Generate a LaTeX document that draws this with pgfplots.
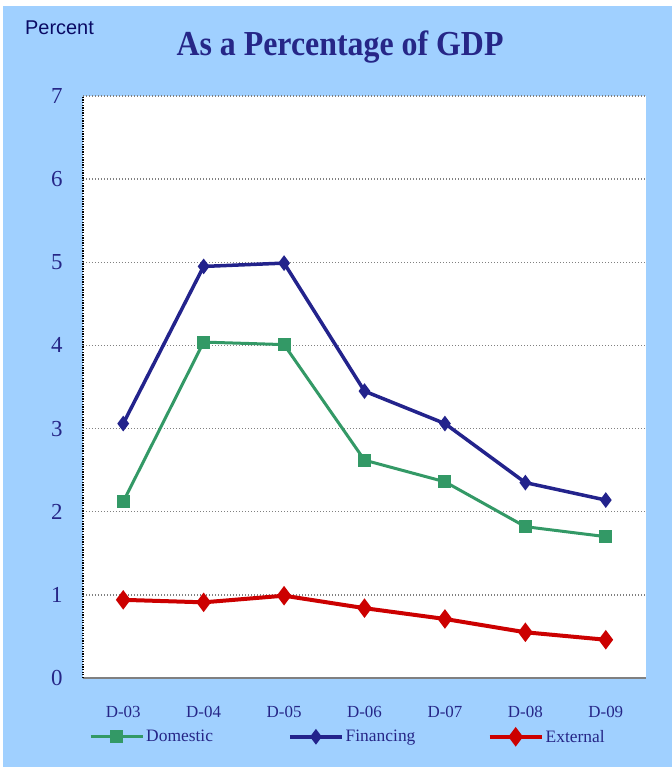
\documentclass[border=0pt]{standalone}
\usepackage{fontspec}
\setmainfont{Liberation Serif}
\newfontfamily\arialf{Liberation Sans}
\usepackage{graphicx}
\usepackage{pgfplots}
\pgfplotsset{compat=1.18}
\definecolor{bgblue}{RGB}{160,208,255}
\definecolor{navy}{RGB}{35,35,140}
\definecolor{txt}{RGB}{38,38,135}
\definecolor{pct}{RGB}{10,10,100}
\definecolor{dgreen}{RGB}{51,153,102}
\definecolor{dred}{RGB}{204,0,0}
\begin{document}
\begin{tikzpicture}[x=1bp,y=1bp]
\fill[white] (-83,-89) rectangle (589,678);
\fill[bgblue] (-80,-89) rectangle (589,672);
\begin{axis}[
  at={(0,0)}, anchor=south west,
  scale only axis, width=563bp, height=582bp,
  xmin=-0.5, xmax=6.5, ymin=0, ymax=7,
  xtick={0,1,2,3,4,5,6},
  xticklabels={D-03,D-04,D-05,D-06,D-07,D-08,D-09},
  ytick={0,1,2,3,4,5,6,7},
  axis x line*=bottom, axis y line*=left,
  x axis line style={-, draw=gray, line width=1.6bp},
  y axis line style={-, draw=black, dash pattern=on 1.3bp off 1.3bp, line width=1.8bp},
  axis background/.style={fill=white},
  ymajorgrids, major grid style={draw=gray, dash pattern=on 1.3bp off 1.7bp, line width=1.3bp},
  major tick length=0pt,
  /pgf/number format/assume math mode=true,
  yticklabel style={font=\fontsize{23}{23}\selectfont, text=txt, xshift=-17bp},
  xticklabel style={font=\fontsize{17}{17}\selectfont, text=txt, yshift=-25bp},
  legend columns=3,
  legend style={at={(axis description cs:0.0107,-0.101)}, anchor=west, draw=none, fill=none,
    font=\fontsize{17.5}{17.5}\selectfont, text=txt, inner sep=0pt,
    /tikz/every even column/.append style={column sep=0pt}},
  legend image code/.code={\draw[mark repeat=2,mark phase=2] plot coordinates {(0bp,0bp)(26bp,0bp)(52bp,0bp)};},
  clip=false,
]
\addplot[dgreen, line width=3bp, mark=square*, mark size=5bp, mark options={solid}] coordinates {
(0,2.12) (1,4.04) (2,4.01) (3,2.62) (4,2.36) (5,1.82) (6,1.70)};
\addlegendentry{\makebox[140bp][l]{Domestic}}
\addplot[navy, line width=3.5bp, mark=diamond*, mark size=5bp, mark options={solid}] coordinates {
(0,3.06) (1,4.95) (2,4.99) (3,3.45) (4,3.06) (5,2.35) (6,2.14)};
\addlegendentry{\makebox[140bp][l]{Financing}}
\addplot[dred, line width=4bp, mark=diamond*, mark size=6.5bp, mark options={solid}] coordinates {
(0,0.94) (1,0.91) (2,0.99) (3,0.84) (4,0.71) (5,0.55) (6,0.46)};
\addlegendentry{External}
\end{axis}
\node[anchor=base, text=txt, font=\bfseries\fontsize{32}{32}\selectfont] at (257,622) {\scalebox{1}[1.1]{As a Percentage of GDP}};
\node[anchor=base west, inner sep=0pt, text=pct, font=\arialf\fontsize{20}{20}\selectfont] at (-58,643) {Percent};
\end{tikzpicture}
\end{document}
